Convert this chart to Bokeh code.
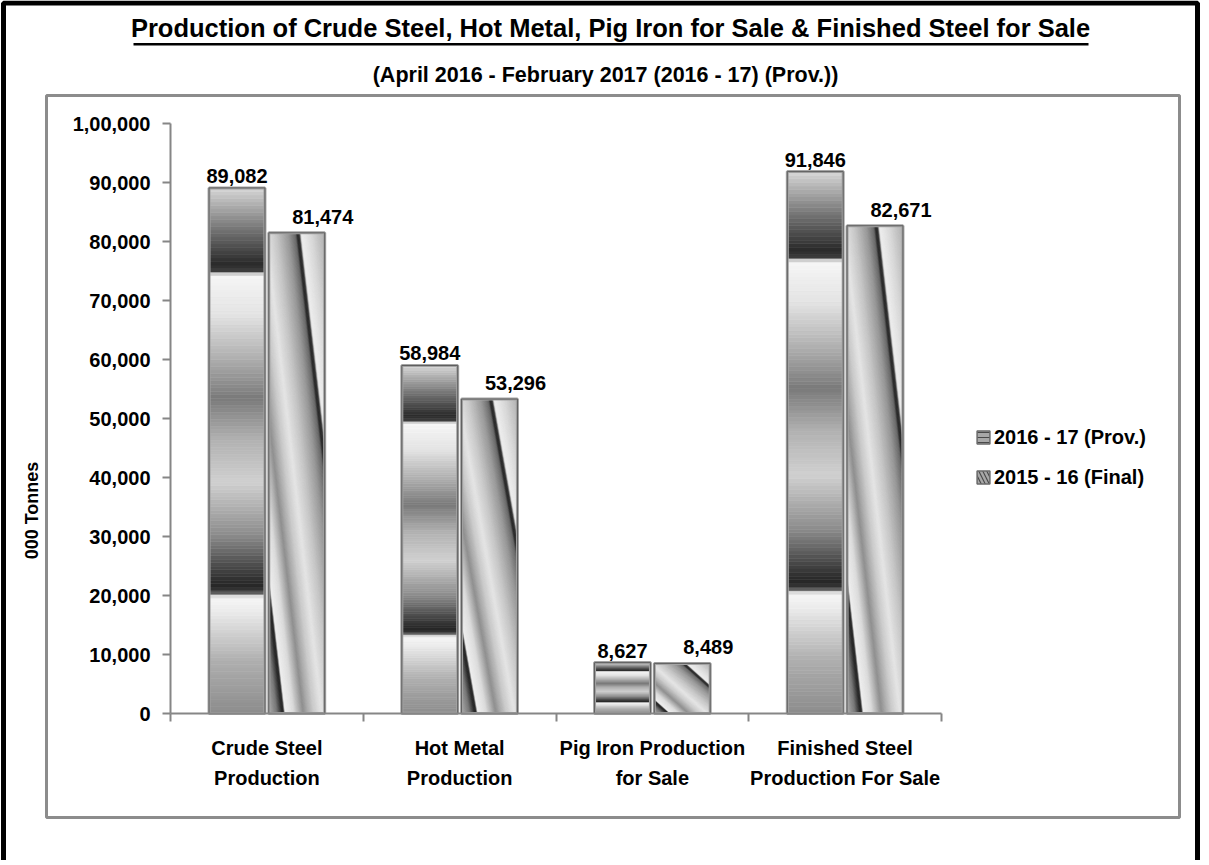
import numpy as np
from bokeh.plotting import figure
from bokeh.models import (Range1d, FixedTicker, LinearAxis, Label, BoxAnnotation,
                          Legend, LegendItem)
from bokeh.core.properties import value
from bokeh.embed import file_html
from bokeh.resources import INLINE

# ---------------- data ----------------
categories = ["Crude Steel\nProduction", "Hot Metal\nProduction",
              "Pig Iron Production\nfor Sale", "Finished Steel\nProduction For Sale"]
series_names = ["2016 - 17 (Prov.)", "2015 - 16 (Final)"]
values_2016_17 = [89082, 58984, 8627, 91846]
values_2015_16 = [81474, 53296, 8489, 82671]
y_ticks = [0, 10000, 20000, 30000, 40000, 50000, 60000, 70000, 80000, 90000, 100000]
y_tick_labels = ["0", "10,000", "20,000", "30,000", "40,000", "50,000", "60,000",
                 "70,000", "80,000", "90,000", "1,00,000"]
title_text = "Production of Crude Steel, Hot Metal, Pig Iron for Sale & Finished Steel for Sale"
subtitle_text = "(April 2016 - February 2017 (2016 - 17) (Prov.))"
y_axis_title = "000 Tonnes"

# ---------------- layout ----------------
FONT = "Liberation Sans"
W, H = 1200, 860
# plot area of the chart (px): left, top, width, height
FL, FT, FW, FH = 170, 123, 771, 590
YMAX = 100000
NCAT = len(categories)


def X(px):  # screen x -> data x
    return (px - FL) / FW * NCAT


def Y(py):  # screen y -> data y
    return (FT + FH - py) / FH * YMAX


# frame covers the whole canvas; axes are pinned with fixed_location
p = figure(width=W, height=H,
           x_range=Range1d(X(0), X(W)), y_range=Range1d(Y(H), Y(0)),
           output_backend="svg", toolbar_location=None,
           x_axis_type=None, y_axis_type=None,
           min_border_left=0, min_border_top=0, min_border_right=0, min_border_bottom=0)
p.outline_line_color = None
p.background_fill_color = "white"
p.border_fill_color = "white"

AX = "#868686"
yaxis = LinearAxis(ticker=FixedTicker(ticks=y_ticks), fixed_location=0, bounds=(0, YMAX),
                   major_label_overrides={t: l for t, l in zip(y_ticks, y_tick_labels)})
yaxis.axis_line_color = AX
yaxis.axis_line_width = 2
yaxis.major_tick_line_color = AX
yaxis.major_tick_line_width = 2
yaxis.major_tick_out = 8
yaxis.major_tick_in = 0
yaxis.minor_tick_line_color = None
yaxis.major_label_standoff = 12
yaxis.major_label_text_font = FONT
yaxis.major_label_text_font_style = "bold"
yaxis.major_label_text_font_size = "20px"
yaxis.major_label_text_color = "black"
p.add_layout(yaxis, "left")

centers = [i + 0.5 for i in range(NCAT)]
xaxis = LinearAxis(ticker=FixedTicker(ticks=centers, minor_ticks=list(range(NCAT + 1))),
                   fixed_location=0, bounds=(0, NCAT),
                   major_label_overrides={c: l for c, l in zip(centers, categories)})
xaxis.axis_line_color = AX
xaxis.axis_line_width = 2
xaxis.major_tick_line_color = None
xaxis.major_tick_out = 0
xaxis.major_tick_in = 0
xaxis.minor_tick_line_color = AX
xaxis.minor_tick_line_width = 2
xaxis.minor_tick_out = 8
xaxis.minor_tick_in = 0
xaxis.major_label_standoff = 15
xaxis.major_label_text_font = FONT
xaxis.major_label_text_font_style = "bold"
xaxis.major_label_text_font_size = "20px"
xaxis.major_label_text_color = "black"
xaxis.major_label_text_align = "center"
xaxis.major_label_text_line_height = 1.4
p.add_layout(xaxis, "below")

# ---------------- bar fills (metallic gradients) ----------------
BW, OFF = 0.29, 0.155


def gray(g):
    g = int(round(max(0, min(255, g))))
    return "#%02x%02x%02x" % (g, g, g)


stops1 = [(0.0, 140), (0.10, 175), (0.20, 238), (0.222, 246), (0.232, 55), (0.245, 38),
          (0.29, 85), (0.34, 140), (0.44, 208), (0.52, 178), (0.60, 122), (0.68, 178),
          (0.76, 228), (0.835, 246), (0.843, 60), (0.855, 42), (0.92, 115), (1.0, 215)]
stops2 = [(0.0, 175), (0.15, 115), (0.24, 35), (0.27, 35), (0.30, 238), (0.45, 218),
          (0.62, 140), (0.80, 200), (0.95, 228), (1.15, 195), (1.35, 150), (1.48, 100),
          (1.51, 35), (1.55, 45), (1.58, 238), (1.75, 218), (2.0, 175)]
f1 = np.array([s[0] for s in stops1]); g1 = np.array([s[1] for s in stops1])
f2 = np.array([s[0] for s in stops2]); g2 = np.array([s[1] for s in stops2])

N1 = 150
edges1 = np.linspace(0, 1, N1 + 1)
ql, qr, qt, qb, qc = [], [], [], [], []
for c, v in zip(centers, values_2016_17):
    for a, b in zip(edges1[:-1], edges1[1:]):
        ql.append(c - OFF - BW / 2); qr.append(c - OFF + BW / 2)
        qb.append(a * v); qt.append(b * v)
        qc.append(gray(np.interp((a + b) / 2, f1, g1)))
p.quad(left=ql, right=qr, top=qt, bottom=qb, fill_color=qc, line_color=qc, line_width=0.6)


def clip_half(poly, f):
    out = []
    n = len(poly)
    for i in range(n):
        a, b = poly[i], poly[(i + 1) % n]
        fa, fb = f(a), f(b)
        if fa >= 0:
            out.append(a)
        if (fa >= 0) != (fb >= 0):
            t = fa / (fa - fb)
            out.append((a[0] + t * (b[0] - a[0]), a[1] + t * (b[1] - a[1])))
    return out


N2 = 130
edges2 = np.linspace(0, 2, N2 + 1)
pxs, pys, pc = [], [], []
for c, v in zip(centers, values_2015_16):
    left = c + OFF - BW / 2
    for a, b in zip(edges2[:-1], edges2[1:]):
        poly = [(0, 0), (1, 0), (1, 1), (0, 1)]
        poly = clip_half(poly, lambda q: q[0] + q[1] - a)
        poly = clip_half(poly, lambda q: b - (q[0] + q[1]))
        if len(poly) < 3:
            continue
        pxs.append([left + q[0] * BW for q in poly])
        pys.append([q[1] * v for q in poly])
        pc.append(gray(np.interp((a + b) / 2, f2, g2)))
p.patches(xs=pxs, ys=pys, fill_color=pc, line_color=pc, line_width=0.6)

# bar outlines
for sgn, vals in ((-1, values_2016_17), (1, values_2015_16)):
    xs = [c + sgn * OFF for c in centers]
    p.vbar(x=xs, top=vals, width=BW, fill_color=None, line_color="#a4a4a4", line_width=3)
    p.vbar(x=xs, top=vals, width=BW, fill_color=None, line_color="#5e5e5e", line_width=1)

# value labels
lab1 = [f"{v:,}" for v in values_2016_17]
lab2 = [f"{v:,}" for v in values_2015_16]
common = dict(text_align="center", text_baseline="alphabetic", text_font=value(FONT),
              text_font_style="bold", text_font_size="20px", text_color="black")
p.text(x=[c - OFF for c in centers], y=values_2016_17, text=lab1, y_offset=-12, **common)
p.text(x=[c + OFF for c in centers], y=values_2015_16, text=lab2, x_offset=26, y_offset=-16, **common)

# legend (swatch renderers carry no visible data)
nan = [float("nan")]
r_l1 = p.quad(left=nan, right=nan, top=nan, bottom=nan, fill_color="#a8a8a8",
              hatch_pattern="horizontal_line", hatch_color="#4a4a4a", hatch_scale=5,
              hatch_weight=1, line_color="#6a6a6a", line_width=1.5)
r_l2 = p.quad(left=nan, right=nan, top=nan, bottom=nan, fill_color="#a8a8a8",
              hatch_pattern="left_diagonal_line", hatch_color="#4a4a4a", hatch_scale=8,
              hatch_weight=1.2, line_color="#6a6a6a", line_width=1.5)
legend = Legend(items=[LegendItem(label=series_names[0], renderers=[r_l1]),
                       LegendItem(label=series_names[1], renderers=[r_l2])],
                location=(975, H - 489))
legend.padding = 0
legend.margin = 0
legend.border_line_color = None
legend.background_fill_alpha = 0
legend.glyph_width = 16
legend.glyph_height = 16
legend.label_standoff = 3
legend.label_height = 24
legend.spacing = 16
legend.label_text_font = FONT
legend.label_text_font_style = "bold"
legend.label_text_font_size = "20px"
legend.label_text_color = "black"
p.add_layout(legend)

# titles and frame decorations
p.add_layout(Label(x=X(610), y=Y(27), text=title_text, text_align="center",
                   text_baseline="alphabetic", text_font=FONT, text_font_style="bold",
                   text_font_size="25.5px", text_color="black"))
p.add_layout(BoxAnnotation(left=X(133), right=X(1088), top=Y(42.5), bottom=Y(45),
                           fill_color="black", fill_alpha=1, line_color=None))
p.add_layout(Label(x=X(605), y=Y(74), text=subtitle_text, text_align="center",
                   text_baseline="alphabetic", text_font=FONT, text_font_style="bold",
                   text_font_size="21.5px", text_color="black"))
p.add_layout(Label(x=X(31), y=Y(510), text=y_axis_title, angle=np.pi / 2,
                   text_align="center", text_baseline="middle", text_font=FONT,
                   text_font_style="bold", text_font_size="18px", text_color="black"))
p.add_layout(BoxAnnotation(left=X(46), right=X(1179), top=Y(95), bottom=Y(817),
                           fill_color=None, line_color="#8c8c8c", line_alpha=1, line_width=3))
p.add_layout(BoxAnnotation(left=X(3), right=X(1197), top=Y(2.5), bottom=Y(1000),
                           fill_color=None, line_color="black", line_alpha=1, line_width=5))

open("out.html", "w").write(file_html(p, INLINE))
